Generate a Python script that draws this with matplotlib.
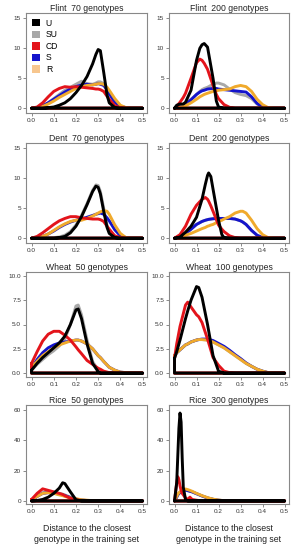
import matplotlib
matplotlib.use("Agg")
import matplotlib.pyplot as plt
from matplotlib.patches import Patch

plt.rcParams["font.family"] = ["Liberation Sans", "DejaVu Sans"]

# Groups and colours
groups = ["U", "SU", "CD", "S", "R"]
colors = {"U": "#000000", "SU": "#a8a8a8", "CD": "#e3141b", "S": "#1414cc", "R": "#f0aa2c"}
legend_colors = {"U": "#000000", "SU": "#a8a8a8", "CD": "#e3141b", "S": "#1414cc", "R": "#f7c68e"}

# Flint 70 genotypes
flint70_x = [0, .025, .05, .075, .1, .125, .15, .175, .2, .225, .25, .275, .29, .3, .31, .325, .34, .35, .375, .4, .425, .45, .5]
flint70_U = [0, 0, 0, 0.1, 0.2, 0.5, 0.9, 1.6, 2.6, 3.8, 5.3, 7.4, 9.0, 9.8, 9.6, 6.0, 2.2, 0.9, 0.1, 0, 0, 0, 0]
flint70_SU = [0, 0.1, 0.4, 0.9, 1.6, 2.3, 3.0, 3.5, 4.0, 4.5, 4.1, 4.0, 4.2, 4.4, 4.4, 4.1, 3.3, 2.6, 1.1, 0.3, 0.1, 0, 0]
flint70_CD = [0, 0.2, 0.9, 1.9, 2.8, 3.3, 3.6, 3.5, 3.6, 3.5, 3.4, 3.3, 3.2, 3.2, 3.1, 2.8, 2.0, 1.5, 0.4, 0.1, 0, 0, 0]
flint70_S = [0, 0.1, 0.4, 0.9, 1.5, 2.1, 2.7, 3.2, 3.6, 3.9, 4.0, 3.9, 4.0, 4.1, 4.0, 3.8, 3.1, 2.4, 1.0, 0.3, 0.1, 0, 0]
flint70_R = [0, 0.1, 0.3, 0.7, 1.2, 1.8, 2.3, 2.8, 3.3, 3.6, 3.8, 3.9, 4.0, 4.1, 4.1, 4.0, 3.5, 3.0, 1.6, 0.5, 0.1, 0, 0]

# Flint 200 genotypes
flint200_x = [0, .01, .025, .04, .05, .075, .1, .115, .125, .135, .15, .175, .19, .2, .225, .25, .275, .3, .325, .35, .375, .4, .425, .45, .5]
flint200_U = [0, 0.5, 0.7, 0.7, 1.0, 3.0, 8.0, 10.0, 10.6, 10.8, 10.2, 5.0, 1.2, 0.2, 0, 0, 0, 0, 0, 0, 0, 0, 0, 0, 0]
flint200_SU = [0, 0.1, 0.3, 0.6, 0.8, 1.5, 2.3, 2.8, 3.1, 3.3, 3.5, 4.0, 4.2, 4.2, 3.9, 3.2, 2.6, 2.3, 2.1, 1.6, 0.7, 0.15, 0, 0, 0]
flint200_CD = [0, 0.3, 1.0, 1.8, 2.5, 5.0, 7.6, 8.2, 8.0, 7.5, 6.5, 3.8, 2.3, 1.6, 0.6, 0.15, 0, 0, 0, 0, 0, 0, 0, 0, 0]
flint200_S = [0, 0.1, 0.3, 0.5, 0.7, 1.4, 2.3, 2.7, 2.9, 3.0, 3.2, 3.3, 3.3, 3.2, 3.1, 3.0, 2.9, 2.8, 2.7, 1.9, 0.8, 0.2, 0, 0, 0]
flint200_R = [0, 0.05, 0.2, 0.3, 0.4, 0.9, 1.5, 1.9, 2.1, 2.3, 2.5, 2.8, 2.9, 3.0, 3.1, 3.2, 3.6, 3.8, 3.6, 2.8, 1.5, 0.6, 0.1, 0, 0]

# Dent 70 genotypes
dent70_x = [0, .025, .05, .075, .1, .125, .15, .175, .2, .225, .25, .275, .29, .3, .31, .325, .34, .35, .375, .4, .425, .45, .5]
dent70_U = [0, 0, 0, 0, 0, 0.1, 0.3, 0.9, 2.0, 3.6, 5.6, 7.8, 8.7, 8.5, 7.4, 4.5, 1.8, 0.8, 0.1, 0, 0, 0, 0]
dent70_SU = [0, 0, 0, 0, 0.1, 0.2, 0.5, 1.1, 2.2, 3.8, 5.8, 8.0, 8.9, 8.8, 7.8, 5.0, 2.2, 1.0, 0.2, 0, 0, 0, 0]
dent70_CD = [0, 0.3, 0.9, 1.6, 2.3, 2.9, 3.3, 3.6, 3.6, 3.4, 3.3, 3.2, 3.2, 3.2, 3.1, 2.8, 2.0, 1.5, 0.4, 0.1, 0, 0, 0]
dent70_S = [0, 0.1, 0.3, 0.7, 1.2, 1.8, 2.3, 2.7, 3.0, 3.2, 3.5, 3.8, 4.0, 4.1, 4.2, 4.0, 3.4, 2.9, 1.4, 0.4, 0.1, 0, 0]
dent70_R = [0, 0.1, 0.3, 0.7, 1.3, 1.9, 2.4, 2.8, 3.0, 3.0, 3.3, 3.7, 4.0, 4.2, 4.4, 4.6, 4.5, 4.0, 2.2, 0.8, 0.1, 0, 0]

# Dent 200 genotypes
dent200_x = [0, .025, .05, .075, .1, .125, .14, .15, .155, .165, .175, .2, .215, .225, .25, .275, .3, .31, .325, .35, .375, .4, .425, .45, .5]
dent200_U = [0, 0.2, 1.0, 2.0, 3.5, 6.5, 9.0, 10.5, 10.9, 10.3, 8.2, 3.0, 0.6, 0.1, 0, 0, 0, 0, 0, 0, 0, 0, 0, 0, 0]
dent200_SU = [0, 0.3, 0.8, 1.5, 2.3, 2.8, 3.0, 3.1, 3.15, 3.2, 3.25, 3.3, 3.3, 3.3, 3.3, 3.2, 2.9, 2.7, 2.3, 1.3, 0.5, 0.1, 0, 0, 0]
dent200_CD = [0, 0.6, 2.0, 4.0, 5.5, 6.5, 6.8, 6.5, 6.2, 5.4, 4.5, 2.2, 1.5, 1.1, 0.4, 0.1, 0, 0, 0, 0, 0, 0, 0, 0, 0]
dent200_S = [0, 0.3, 0.8, 1.5, 2.3, 2.8, 3.0, 3.1, 3.15, 3.2, 3.25, 3.3, 3.3, 3.3, 3.3, 3.2, 2.9, 2.7, 2.3, 1.3, 0.5, 0.1, 0, 0, 0]
dent200_R = [0, 0.1, 0.5, 0.8, 1.2, 1.6, 1.8, 2.0, 2.05, 2.2, 2.3, 2.8, 3.0, 3.2, 3.6, 4.2, 4.5, 4.5, 4.2, 3.0, 1.6, 0.6, 0.1, 0, 0]

# Wheat 50 genotypes
wheat50_x = [0, .025, .05, .075, .1, .125, .15, .175, .2, .21, .225, .25, .275, .3, .31, .325, .35, .375, .4, .425, .45, .5]
wheat50_U = [0.3, 1.0, 1.6, 2.1, 2.6, 3.1, 3.8, 5.0, 6.5, 6.6, 5.6, 3.0, 1.0, 0.15, 0, 0, 0, 0, 0, 0, 0, 0]
wheat50_SU = [0.3, 0.9, 1.4, 1.9, 2.3, 2.8, 3.5, 5.0, 6.9, 7.0, 6.0, 3.4, 1.2, 0.3, 0.1, 0, 0, 0, 0, 0, 0, 0]
wheat50_CD = [1.0, 2.2, 3.3, 4.0, 4.3, 4.3, 3.9, 3.4, 2.7, 2.4, 2.0, 1.3, 0.9, 0.5, 0.4, 0.2, 0.05, 0, 0, 0, 0, 0]
wheat50_S = [0.5, 1.4, 2.1, 2.6, 2.9, 3.1, 3.2, 3.3, 3.4, 3.4, 3.3, 3.0, 2.5, 1.8, 1.6, 1.2, 0.6, 0.3, 0.1, 0.05, 0, 0]
wheat50_R = [0.6, 1.2, 1.8, 2.2, 2.6, 2.9, 3.1, 3.3, 3.4, 3.4, 3.3, 3.0, 2.5, 1.8, 1.6, 1.2, 0.6, 0.3, 0.1, 0.05, 0, 0]

# Wheat 100 genotypes
wheat100_x = [0, .01, .025, .05, .06, .075, .1, .11, .125, .15, .175, .2, .225, .25, .275, .3, .325, .35, .375, .4, .425, .45, .5]
wheat100_U = [1.5, 2.2, 3.4, 5.6, 6.4, 7.5, 8.9, 8.8, 7.8, 5.0, 1.8, 0.2, 0, 0, 0, 0, 0, 0, 0, 0, 0, 0, 0]
wheat100_SU = [1.8, 2.1, 2.4, 2.9, 3.0, 3.2, 3.4, 3.45, 3.45, 3.4, 3.2, 2.9, 2.6, 2.2, 1.8, 1.4, 1.0, 0.7, 0.4, 0.2, 0.05, 0, 0]
wheat100_CD = [1.5, 3.0, 4.8, 7.0, 7.3, 6.8, 6.0, 5.8, 5.2, 3.5, 1.6, 0.8, 0.2, 0.05, 0, 0, 0, 0, 0, 0, 0, 0, 0]
wheat100_S = [1.8, 2.1, 2.4, 2.9, 3.0, 3.2, 3.4, 3.45, 3.5, 3.5, 3.35, 3.05, 2.75, 2.35, 1.9, 1.5, 1.05, 0.7, 0.4, 0.2, 0.05, 0, 0]
wheat100_R = [1.8, 2.1, 2.4, 2.9, 3.0, 3.2, 3.4, 3.45, 3.45, 3.4, 3.2, 2.9, 2.6, 2.2, 1.8, 1.4, 1.0, 0.7, 0.4, 0.2, 0.05, 0, 0]

# Rice 50 genotypes
rice50_x = [0, .025, .05, .075, .1, .125, .14, .15, .175, .2, .225, .25, .275, .3, .35, .4, .45, .5]
rice50_U = [0, 0.3, 1.0, 2.5, 5.0, 8.5, 12.0, 11.5, 6.0, 0.8, 0, 0, 0, 0, 0, 0, 0, 0]
rice50_SU = [0.5, 3.0, 5.5, 6.0, 5.8, 5.0, 4.5, 4.0, 2.5, 1.0, 0.5, 0.3, 0.1, 0, 0, 0, 0, 0]
rice50_CD = [1.0, 5.0, 8.0, 7.0, 6.0, 5.0, 4.3, 3.5, 1.8, 0.8, 0.3, 0.1, 0, 0, 0, 0, 0, 0]
rice50_S = [0.5, 3.0, 5.0, 5.5, 5.2, 4.5, 4.0, 3.5, 2.3, 1.2, 0.6, 0.3, 0.1, 0, 0, 0, 0, 0]
rice50_R = [1.0, 3.0, 5.0, 5.5, 5.0, 4.0, 3.5, 3.0, 2.0, 1.5, 0.8, 0.5, 0.2, 0.1, 0, 0, 0, 0]

# Rice 300 genotypes
rice300_x = [0, .01, .015, .02, .025, .03, .035, .04, .05, .06, .07, .08, .1, .125, .15, .175, .2, .225, .25, .3, .35, .4, .45, .5]
rice300_U = [0, 12, 30, 48, 58, 52, 28, 9, 1, 0, 0, 0, 0, 0, 0, 0, 0, 0, 0, 0, 0, 0, 0, 0]
rice300_SU = [0, 2.5, 4.0, 5.0, 5.5, 6.0, 6.5, 7.0, 7.2, 6.8, 6.4, 6.0, 4.8, 3.3, 2.0, 1.1, 0.5, 0.2, 0.1, 0, 0, 0, 0, 0]
rice300_CD = [0, 12, 16, 14, 10, 7, 5, 4, 2, 1, 2.5, 1, 0.5, 0.1, 0, 0, 0, 0, 0, 0, 0, 0, 0, 0]
rice300_S = [0, 2.5, 4.0, 5.0, 5.5, 6.0, 6.5, 7.0, 7.2, 6.8, 6.4, 6.0, 4.8, 3.3, 2.0, 1.1, 0.5, 0.2, 0.1, 0, 0, 0, 0, 0]
rice300_R = [0, 3, 4.5, 5.5, 6, 6.5, 7, 7.5, 7.9, 7.5, 7.0, 6.4, 5.0, 3.5, 2.2, 1.2, 0.6, 0.2, 0.1, 0, 0, 0, 0, 0]

panels = [
    ("Flint  70 genotypes", flint70_x, [flint70_U, flint70_SU, flint70_CD, flint70_S, flint70_R]),
    ("Flint  200 genotypes", flint200_x, [flint200_U, flint200_SU, flint200_CD, flint200_S, flint200_R]),
    ("Dent  70 genotypes", dent70_x, [dent70_U, dent70_SU, dent70_CD, dent70_S, dent70_R]),
    ("Dent  200 genotypes", dent200_x, [dent200_U, dent200_SU, dent200_CD, dent200_S, dent200_R]),
    ("Wheat  50 genotypes", wheat50_x, [wheat50_U, wheat50_SU, wheat50_CD, wheat50_S, wheat50_R]),
    ("Wheat  100 genotypes", wheat100_x, [wheat100_U, wheat100_SU, wheat100_CD, wheat100_S, wheat100_R]),
    ("Rice  50 genotypes", rice50_x, [rice50_U, rice50_SU, rice50_CD, rice50_S, rice50_R]),
    ("Rice  300 genotypes", rice300_x, [rice300_U, rice300_SU, rice300_CD, rice300_S, rice300_R]),
]

# y axis setup per row
row_yticks = [[0, 5, 10, 15], [0, 5, 10, 15], [0, 2.5, 5, 7.5, 10], [0, 20, 40, 60]]
row_ylabels = [["0", "5", "10", "15"], ["0", "5", "10", "15"],
               ["0.0", "2.5", "5.0", "7.5", "10.0"], ["0", "20", "40", "60"]]
row_ylim = [(-0.8, 15.9), (-0.8, 15.9), (-0.4, 10.4), (-2.0, 63.3)]

W, H = 295, 548
col_lr = [(26, 147), (169, 289)]
row_tb = [(13, 113), (143, 243), (272, 377), (405, 504)]
draw_order = ["SU", "S", "R", "CD", "U"]


def main():
    fig = plt.figure(figsize=(W / 100, H / 100), dpi=100)

    for i, (title, xs, series) in enumerate(panels):
        r, c = divmod(i, 2)
        left, right = col_lr[c]
        top, bottom = row_tb[r]
        ax = fig.add_axes([left / W, 1 - bottom / H, (right - left) / W, (bottom - top) / H])

        ys = dict(zip(groups, series))
        for g in draw_order:
            # density outlines are closed back along the baseline
            px = list(xs) + [xs[-1], xs[0], xs[0]]
            py = list(ys[g]) + [0, 0, ys[g][0]]
            ax.plot(px, py, color=colors[g], lw=2.1, solid_capstyle="round",
                    solid_joinstyle="round")

        ax.set_xlim(-0.025, 0.52)
        ax.set_ylim(*row_ylim[r])
        ax.set_xticks([0, 0.1, 0.2, 0.3, 0.4, 0.5])
        ax.set_xticklabels(["0.0", "0.1", "0.2", "0.3", "0.4", "0.5"])
        ax.set_yticks(row_yticks[r])
        ax.set_yticklabels(row_ylabels[r])
        ax.tick_params(length=2, width=0.6, color="#777777", labelsize=4.6,
                       labelcolor="#333333", pad=1.5)
        for sp in ax.spines.values():
            sp.set_color("#888888")
            sp.set_linewidth(0.8)
        ax.set_title(title, fontsize=6.2, pad=1.5, color="#222222")

        if r == 3:
            ax.set_xlabel("Distance to the closest\ngenotype in the training set",
                          fontsize=6.3, labelpad=7.5, color="#222222")

        if i == 0:
            handles = [Patch(facecolor=legend_colors[g], edgecolor="none") for g in groups]
            ax.legend(handles, groups, loc="upper left", frameon=False, fontsize=6.2,
                      handlelength=0.95, handleheight=0.95, handletextpad=0.7,
                      labelspacing=0.3, borderaxespad=0.3, borderpad=0.35)

    fig.savefig("out.png", dpi=100)


if __name__ == "__main__":
    main()
